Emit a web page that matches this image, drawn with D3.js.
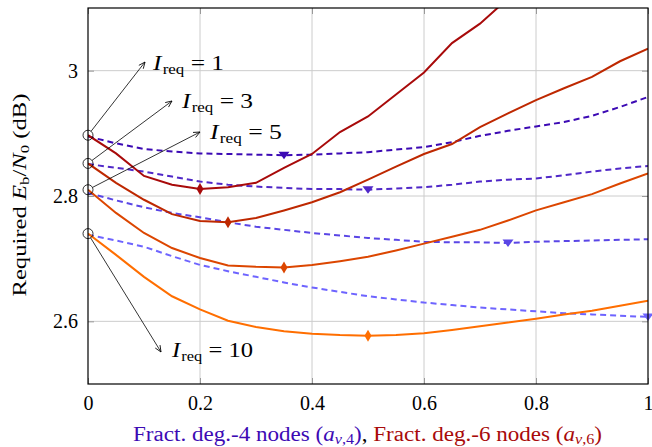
<!DOCTYPE html>
<html>
<head>
<meta charset="utf-8">
<script src="https://cdn.jsdelivr.net/npm/d3@7"></script>
<style>
  body { margin: 0; background: #fff; }
  svg text { font-family: 'Liberation Serif', 'DejaVu Serif', serif !important; }
</style>
</head>
<body>
<div id="chart"></div>
<script>
// data
const xs = [0, 0.05, 0.1, 0.15, 0.2, 0.25, 0.3, 0.35, 0.4, 0.45, 0.5,
            0.55, 0.6, 0.65, 0.7, 0.75, 0.8, 0.85, 0.9, 0.95, 1]

const ireqLabels = ["1", "3", "5", "10"]

// fraction of degree-6 nodes (solid)
const deg6_I1  = [2.897, 2.868, 2.832, 2.818, 2.811, 2.814, 2.821, 2.845, 2.867, 2.902, 2.927,
                  2.962, 2.997, 3.044, 3.075, 3.115, 3.16]
const deg6_I3  = [2.852, 2.821, 2.794, 2.771, 2.760, 2.758, 2.765, 2.777, 2.790, 2.806, 2.826,
                  2.847, 2.867, 2.883, 2.910, 2.932, 2.953, 2.972, 2.990, 3.015, 3.035]
const deg6_I5  = [2.810, 2.773, 2.741, 2.717, 2.701, 2.689, 2.687, 2.686, 2.690, 2.696, 2.703,
                  2.713, 2.724, 2.735, 2.746, 2.761, 2.777, 2.790, 2.803, 2.820, 2.836]
const deg6_I10 = [2.740, 2.706, 2.671, 2.640, 2.619, 2.601, 2.591, 2.584, 2.580, 2.578, 2.577,
                  2.578, 2.581, 2.586, 2.592, 2.598, 2.604, 2.611, 2.617, 2.625, 2.633]

// fraction of degree-4 nodes (dashed)
const deg4_I1  = [2.895, 2.884, 2.875, 2.871, 2.868, 2.867, 2.866, 2.865, 2.866, 2.868, 2.870,
                  2.874, 2.878, 2.886, 2.896, 2.904, 2.911, 2.918, 2.928, 2.942, 2.958]
const deg4_I3  = [2.851, 2.845, 2.839, 2.831, 2.823, 2.818, 2.815, 2.813, 2.811, 2.811, 2.810,
                  2.812, 2.814, 2.818, 2.823, 2.826, 2.828, 2.833, 2.839, 2.844, 2.848]
const deg4_I5  = [2.805, 2.793, 2.782, 2.773, 2.766, 2.758, 2.751, 2.746, 2.741, 2.737, 2.733,
                  2.730, 2.727, 2.726, 2.726, 2.725, 2.727, 2.728, 2.729, 2.730, 2.731]
const deg4_I10 = [2.738, 2.729, 2.719, 2.704, 2.690, 2.680, 2.671, 2.662, 2.654, 2.647, 2.640,
                  2.635, 2.630, 2.626, 2.622, 2.619, 2.616, 2.613, 2.611, 2.609, 2.607]

// x position of the marked minimum of each curve
const deg6_minX = [0.2, 0.25, 0.35, 0.5]
const deg4_minX = [0.35, 0.5, 0.75, 1]

const xTicks = [0, 0.2, 0.4, 0.6, 0.8, 1]
const yTicks = [2.6, 2.8, 3]

const deg6Colors = ["#a80a0a", "#be2800", "#dc4600", "#ff6e00"]
const deg4Colors = ["#3c0ab4", "#5028c8", "#5a46e6", "#6e64ff"]

function drawChart() {
  const width = 652
  const height = 447
  const margin = {top: 8, right: 4, bottom: 63, left: 88}
  const innerW = width - margin.left - margin.right
  const innerH = height - margin.top - margin.bottom

  const svg = d3.select("#chart")
    .append("svg")
    .attr("width", width)
    .attr("height", height)
    .attr("font-family", "Liberation Serif, DejaVu Serif, serif")

  const g = svg.append("g")
    .attr("transform", `translate(${margin.left}, ${margin.top})`)

  // scales
  const xScale = d3.scaleLinear().domain([0, 1]).range([0, innerW])
  const yScale = d3.scaleLinear().domain([2.5, 3.1]).range([innerH, 0])

  svg.append("defs").append("clipPath")
    .attr("id", "plotclip")
    .append("rect")
    .attr("width", innerW)
    .attr("height", innerH)

  // grid
  g.append("g")
    .selectAll("line")
    .data(xTicks.slice(1, -1))
    .join("line")
    .attr("x1", d => xScale(d)).attr("x2", d => xScale(d))
    .attr("y1", 0).attr("y2", innerH)
    .attr("stroke", "#cccccc")
    .attr("stroke-width", 1)

  g.append("g")
    .selectAll("line")
    .data(yTicks)
    .join("line")
    .attr("x1", 0).attr("x2", innerW)
    .attr("y1", d => yScale(d)).attr("y2", d => yScale(d))
    .attr("stroke", "#cccccc")
    .attr("stroke-width", 1)

  // axes (inward tick marks, grey)
  const styleAxis = sel => {
    sel.attr("font-family", null).attr("font-size", null)
    sel.select(".domain").remove()
    sel.selectAll(".tick line").attr("stroke", "#999").attr("stroke-width", 1)
    sel.selectAll(".tick text")
      .attr("font-size", "20px")
      .attr("fill", "#000")
  }

  g.append("g")
    .attr("transform", `translate(0, ${innerH})`)
    .call(d3.axisBottom(xScale).tickValues(xTicks).tickFormat(d3.format("")).tickSizeInner(-6).tickPadding(12))
    .call(styleAxis)

  g.append("g")
    .call(d3.axisTop(xScale).tickValues(xTicks).tickFormat("").tickSizeInner(-6))
    .call(styleAxis)

  g.append("g")
    .call(d3.axisLeft(yScale).tickValues(yTicks).tickFormat(d3.format("")).tickSizeInner(-6).tickPadding(10))
    .call(styleAxis)

  g.append("g")
    .attr("transform", `translate(${innerW}, 0)`)
    .call(d3.axisRight(yScale).tickValues(yTicks).tickFormat("").tickSizeInner(-6))
    .call(styleAxis)

  // lines
  const plot = g.append("g").attr("clip-path", "url(#plotclip)")

  const lineGenerator = d3.line()
    .x((d, i) => xScale(xs[i]))
    .y(d => yScale(d))

  const deg4 = [deg4_I1, deg4_I3, deg4_I5, deg4_I10]
  const deg6 = [deg6_I1, deg6_I3, deg6_I5, deg6_I10]

  deg4.forEach((vals, k) => {
    plot.append("path")
      .datum(vals)
      .attr("d", lineGenerator)
      .attr("fill", "none")
      .attr("stroke", deg4Colors[k])
      .attr("stroke-width", 2)
      .attr("stroke-dasharray", "6,4")
  })

  deg6.forEach((vals, k) => {
    plot.append("path")
      .datum(vals)
      .attr("d", lineGenerator)
      .attr("fill", "none")
      .attr("stroke", deg6Colors[k])
      .attr("stroke-width", 2)
  })

  // markers at the minima
  const valueAt = (vals, x) => vals[xs.findIndex(v => Math.abs(v - x) < 1e-9)]

  deg4.forEach((vals, k) => {
    const cx = xScale(deg4_minX[k]), cy = yScale(valueAt(vals, deg4_minX[k]))
    g.append("path")
      .attr("d", `M${cx - 5.5},${cy - 3.5}L${cx + 5.5},${cy - 3.5}L${cx},${cy + 4}Z`)
      .attr("fill", deg4Colors[k])
  })

  deg6.forEach((vals, k) => {
    const cx = xScale(deg6_minX[k]), cy = yScale(valueAt(vals, deg6_minX[k]))
    g.append("path")
      .attr("d", `M${cx},${cy - 6}L${cx + 3.5},${cy}L${cx},${cy + 6}L${cx - 3.5},${cy}Z`)
      .attr("fill", deg6Colors[k])
  })

  // frame
  g.append("rect")
    .attr("width", innerW)
    .attr("height", innerH)
    .attr("fill", "none")
    .attr("stroke", "#000")
    .attr("stroke-width", 1.2)

  // annotations: circle at the start of each pair, arrow to a label
  svg.append("defs").append("marker")
    .attr("id", "arrowhead")
    .attr("viewBox", "0 0 10 10")
    .attr("refX", 9).attr("refY", 5)
    .attr("markerWidth", 8).attr("markerHeight", 8)
    .attr("markerUnits", "userSpaceOnUse")
    .attr("orient", "auto")
    .append("path")
    .attr("d", "M1,1.5L9,5L1,8.5")
    .attr("fill", "none")
    .attr("stroke", "#000")
    .attr("stroke-width", 1)

  // arrow tip x, y, label x, baseline y, label width
  const labelPos = [[145, 62, 153, 70, 71], [172, 101, 182, 108, 71], [200, 132, 210, 139, 72], [161, 352, 172, 357, 81]]
  const startVals = [deg6_I1[0], deg6_I3[0], deg6_I5[0], deg6_I10[0]]

  ireqLabels.forEach((lab, k) => {
    const cx = margin.left + xScale(0)
    const cy = margin.top + yScale(startVals[k])
    svg.append("circle")
      .attr("cx", cx).attr("cy", cy).attr("r", 5)
      .attr("fill", "none").attr("stroke", "#000").attr("stroke-width", 0.8)

    const [ax, ay, tx, ty, tw] = labelPos[k]
    const ang = Math.atan2(ay - cy, ax - cx)
    svg.append("line")
      .attr("x1", cx + 5 * Math.cos(ang)).attr("y1", cy + 5 * Math.sin(ang))
      .attr("x2", ax).attr("y2", ay)
      .attr("stroke", "#000").attr("stroke-width", 0.8)
      .attr("marker-end", "url(#arrowhead)")

    const t = svg.append("text")
      .attr("x", tx).attr("y", ty)
      .attr("font-size", "21px")
      .attr("textLength", tw)
      .attr("lengthAdjust", "spacingAndGlyphs")
    t.append("tspan").attr("font-style", "italic").text("I")
    t.append("tspan").attr("font-size", "14px").attr("dy", 4).attr("dx", 1).text("req")
    t.append("tspan").attr("dy", -4).text(` = ${lab}`)
  })

  // y label
  const yl = svg.append("text")
    .attr("transform", `translate(26, ${margin.top + innerH / 2 - 1}) rotate(-90)`)
    .attr("text-anchor", "middle")
    .attr("font-size", "19px")
    .attr("textLength", 203)
    .attr("lengthAdjust", "spacingAndGlyphs")
  yl.append("tspan").text("Required ")
  yl.append("tspan").attr("font-style", "italic").text("E")
  yl.append("tspan").attr("font-size", "13px").attr("dy", 3).text("b")
  yl.append("tspan").attr("dy", -3).text("/")
  yl.append("tspan").attr("font-style", "italic").text("N")
  yl.append("tspan").attr("font-size", "13px").attr("dy", 3).text("0")
  yl.append("tspan").attr("dy", -3).text(" (dB)")

  // x label
  const xl = svg.append("text")
    .attr("x", 133)
    .attr("y", 441)
    .attr("font-size", "20px")
    .attr("textLength", 469)
    .attr("lengthAdjust", "spacingAndGlyphs")
  xl.append("tspan").attr("fill", "#3c0ab4").text("Fract. deg.-4 nodes (")
  xl.append("tspan").attr("fill", "#3c0ab4").attr("font-style", "italic").text("a")
  xl.append("tspan").attr("fill", "#3c0ab4").attr("font-size", "14px").attr("dy", 3).html("<tspan font-style='italic'>v</tspan>,4")
  xl.append("tspan").attr("fill", "#3c0ab4").attr("dy", -3).text(")")
  xl.append("tspan").attr("fill", "#000").text(", ")
  xl.append("tspan").attr("fill", "#a80a0a").text("Fract. deg.-6 nodes (")
  xl.append("tspan").attr("fill", "#a80a0a").attr("font-style", "italic").text("a")
  xl.append("tspan").attr("fill", "#a80a0a").attr("font-size", "14px").attr("dy", 3).html("<tspan font-style='italic'>v</tspan>,6")
  xl.append("tspan").attr("fill", "#a80a0a").attr("dy", -3).text(")")
}

drawChart()
</script>
</body>
</html>
